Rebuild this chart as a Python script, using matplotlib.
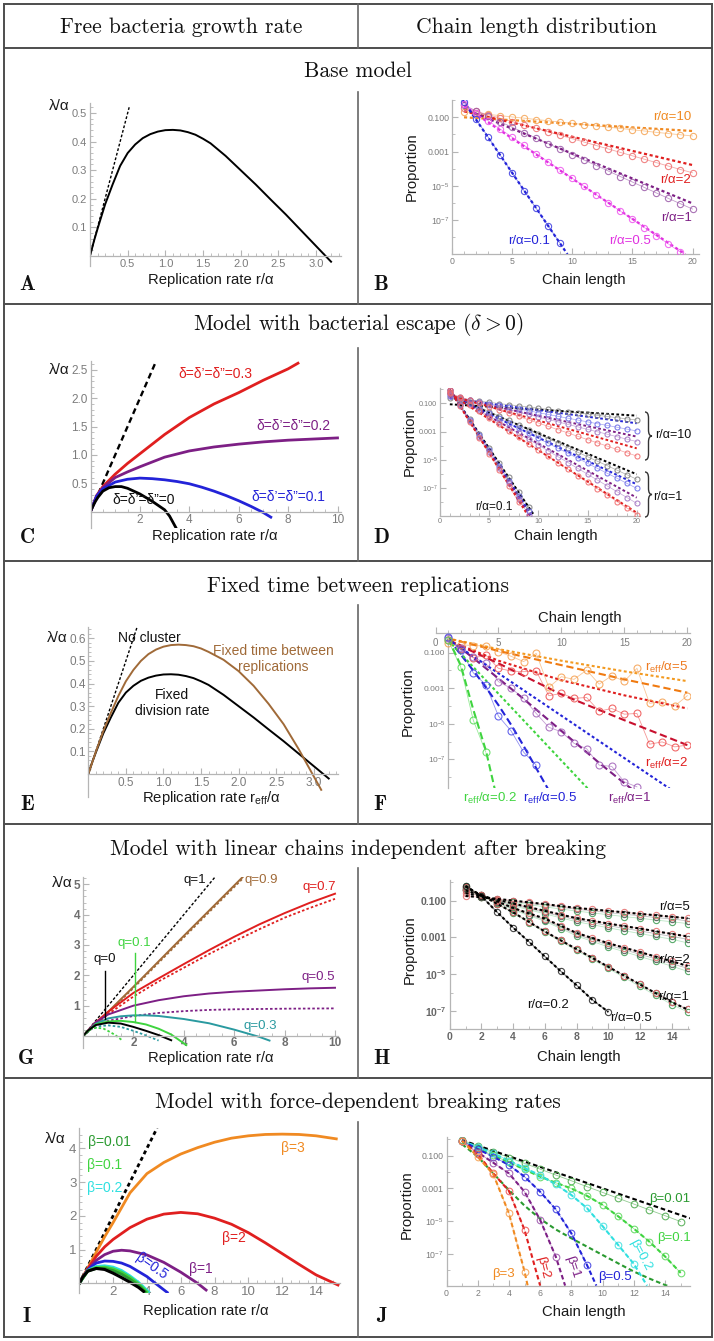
import numpy as np
import matplotlib
matplotlib.use('Agg')
import matplotlib.pyplot as plt
from matplotlib.lines import Line2D
from matplotlib.path import Path
from matplotlib.patches import PathPatch

plt.rcParams['font.family'] = ['Liberation Sans', 'DejaVu Sans']
plt.rcParams['mathtext.fontset'] = 'custom'
plt.rcParams['mathtext.rm'] = 'Liberation Sans'
plt.rcParams['mathtext.it'] = 'Liberation Sans:italic'
plt.rcParams['mathtext.bf'] = 'Liberation Sans:bold'

# ======================= DATA =======================
# --- A: base model growth rate
A_r = [0, 0.05, 0.1, 0.2, 0.3, 0.4, 0.5, 0.6, 0.7, 0.8, 0.9, 1.0, 1.1, 1.2, 1.3, 1.4, 1.5, 1.6, 1.8, 2.0, 2.2, 2.4, 2.6, 2.8, 3.0, 3.2]
A_lam = [0, 0.05, 0.095, 0.18, 0.25, 0.315, 0.36, 0.39, 0.412, 0.426, 0.435, 0.44, 0.441, 0.439, 0.433, 0.424, 0.41, 0.394, 0.35, 0.30, 0.25, 0.197, 0.145, 0.09, 0.035, -0.02]
A_tan_r = [0, 0.52]
A_tan_lam = [0, 0.52]
A_xticks = [0.5, 1.0, 1.5, 2.0, 2.5, 3.0]
A_xlabels = ['0.5', '1.0', '1.5', '2.0', '2.5', '3.0']
A_yticks = [0.1, 0.2, 0.3, 0.4, 0.5]
A_ylabels = ['0.1', '0.2', '0.3', '0.4', '0.5']

# --- B: chain length distribution, base model (log10 proportions)
B_r01_n = [1, 2, 3, 4, 5, 6, 7, 8, 9]
B_r01 = [-0.08, -1.1, -2.15, -3.2, -4.24, -5.29, -6.32, -7.35, -8.37]
B_r01_th_n = [0.9, 9.6]
B_r01_th = [0.0, -9.0]
B_r05_n = list(range(1, 20))
B_r05 = [-0.2, -0.72, -1.2, -1.68, -2.16, -2.64, -3.12, -3.6, -4.08, -4.56, -5.04, -5.52, -6.0, -6.48, -6.96, -7.44, -7.92, -8.4, -8.88]
B_r05_th_n = [1, 19.4]
B_r05_th = [-0.35, -9.0]
B_n20 = list(range(1, 21))
B_r1 = [-0.3, -0.62, -0.94, -1.26, -1.58, -1.9, -2.22, -2.54, -2.86, -3.18, -3.5, -3.82, -4.14, -4.46, -4.78, -5.1, -5.42, -5.74, -6.05, -6.36]
B_r1_th = [-0.5, -6.03]
B_r2 = [-0.45, -0.65, -0.85, -1.05, -1.25, -1.45, -1.65, -1.85, -2.05, -2.25, -2.45, -2.65, -2.85, -3.05, -3.25, -3.45, -3.65, -3.85, -4.05, -4.24]
B_r2_th = [-0.65, -3.79]
B_r10 = [-0.67, -0.75, -0.83, -0.9, -0.98, -1.05, -1.13, -1.2, -1.28, -1.35, -1.43, -1.5, -1.58, -1.65, -1.73, -1.8, -1.88, -1.95, -2.02, -2.09]
B_r10_th = [-1.0, -1.8]
TH_ENDS_20 = [1, 20]

LOG_YTICKS = [1e-1, 1e-3, 1e-5, 1e-7]
LOG_YLABELS = ['0.100', '0.001', '$10^{-5}$', '$10^{-7}$']

# --- C: bacterial escape
C_r0 = [0, 0.1, 0.2, 0.3, 0.5, 0.75, 1.0, 1.25, 1.5, 2.0, 2.5, 3.0, 3.2, 3.45]
C_l0 = [0, 0.095, 0.18, 0.25, 0.36, 0.42, 0.44, 0.44, 0.41, 0.31, 0.18, 0.03, -0.08, -0.28]
C_r1 = [0, 0.25, 0.5, 1.0, 1.5, 2.0, 2.5, 3.0, 3.5, 4.0, 4.5, 5.0, 5.5, 6.0, 6.5, 7.0, 7.3]
C_l1 = [0, 0.27, 0.4, 0.52, 0.57, 0.59, 0.58, 0.56, 0.53, 0.49, 0.43, 0.36, 0.28, 0.19, 0.09, -0.02, -0.1]
C_r2 = [0, 0.25, 0.5, 1, 1.5, 2, 3, 4, 5, 6, 7, 8, 9, 10]
C_l2 = [0, 0.28, 0.42, 0.6, 0.7, 0.79, 0.96, 1.07, 1.14, 1.19, 1.23, 1.26, 1.28, 1.30]
C_r3 = [0, 0.25, 0.5, 1, 1.5, 2, 3, 4, 5, 6, 7, 8, 8.4]
C_l3 = [0, 0.28, 0.44, 0.66, 0.85, 1.02, 1.36, 1.66, 1.9, 2.1, 2.32, 2.52, 2.62]
C_tan = [0, 2.65]

# --- D: escape chain distributions (log10)
D_r10_grey = [-0.6, -0.68, -0.77, -0.85, -0.93, -1.02, -1.1, -1.18, -1.26, -1.35, -1.43, -1.51, -1.6, -1.68, -1.76, -1.85, -1.93, -2.01, -2.1, -2.18]
D_r10_blue = [-0.5, -0.63, -0.76, -0.89, -1.02, -1.15, -1.27, -1.4, -1.53, -1.66, -1.79, -1.92, -2.05, -2.18, -2.31, -2.44, -2.56, -2.69, -2.82, -2.95]
D_r10_purple = [-0.4, -0.57, -0.75, -0.92, -1.1, -1.27, -1.44, -1.62, -1.79, -1.97, -2.14, -2.31, -2.49, -2.66, -2.84, -3.01, -3.18, -3.36, -3.53, -3.7]
D_r10_red = [-0.3, -0.53, -0.77, -1.0, -1.23, -1.46, -1.7, -1.93, -2.16, -2.39, -2.63, -2.86, -3.09, -3.33, -3.56, -3.79, -4.02, -4.26, -4.49, -4.72]
D_r10_th = {'black': [-1.07, -1.87], 'blue': [-0.65, -2.41], 'purple': [-0.55, -3.35], 'red': [-0.45, -4.18]}
D_r1_grey = [-0.3, -0.62, -0.94, -1.26, -1.58, -1.9, -2.21, -2.53, -2.85, -3.17, -3.49, -3.81, -4.13, -4.45, -4.77, -5.09, -5.4, -5.72, -6.04, -6.36]
D_r1_blue = [-0.3, -0.65, -1.01, -1.36, -1.71, -2.06, -2.42, -2.77, -3.12, -3.47, -3.83, -4.18, -4.53, -4.88, -5.24, -5.59, -5.94, -6.29, -6.65, -7.0]
D_r1_purple = [-0.25, -0.66, -1.07, -1.48, -1.89, -2.31, -2.72, -3.13, -3.54, -3.95, -4.36, -4.77, -5.18, -5.59, -6.0, -6.42, -6.83, -7.24, -7.65, -8.06]
D_r1_red = [-0.2, -0.66, -1.11, -1.57, -2.02, -2.48, -2.93, -3.39, -3.84, -4.3, -4.75, -5.21, -5.66, -6.12, -6.57, -7.03, -7.48, -7.94, -8.39, -8.85]
D_r1_th = {'black': [-0.5, -6.01], 'blue': [-0.45, -6.72], 'purple': [-0.4, -7.66], 'red': [-0.35, -8.72]}
D_n9 = [1, 2, 3, 4, 5, 6, 7, 8, 9]
D_r01_grey = [-0.05, -1.08, -2.11, -3.14, -4.17, -5.2, -6.23, -7.26, -8.29]
D_r01_blue = [-0.05, -1.12, -2.19, -3.26, -4.33, -5.4, -6.47, -7.54, -8.61]
D_r01_purple = [-0.05, -1.15, -2.25, -3.35, -4.45, -5.55, -6.65, -7.75, -8.85]
D_r01_red = [-0.05, -1.18, -2.31, -3.44, -4.57, -5.7, -6.83, -7.96]
D_r01_th_end = {'black': 9.6, 'blue': 9.35, 'purple': 9.15, 'red': 8.95}
D_r01_th = [-0.05, -8.93]

# --- E: fixed time between replications
E_r = [0, 0.1, 0.2, 0.3, 0.4, 0.5, 0.6, 0.7, 0.8, 0.9, 1.0, 1.1, 1.2, 1.3, 1.4, 1.5, 1.6, 1.8, 2.0, 2.2, 2.4, 2.6, 2.8, 3.0, 3.1]
E_brown = [0, 0.098, 0.19, 0.27, 0.345, 0.41, 0.46, 0.5, 0.53, 0.55, 0.563, 0.57, 0.572, 0.57, 0.565, 0.555, 0.54, 0.505, 0.455, 0.39, 0.31, 0.22, 0.11, -0.01, -0.07]
E_tan = [0, 0.67]
E_yticks = [0.1, 0.2, 0.3, 0.4, 0.5, 0.6]
E_ylabels = ['0.1', '0.2', '0.3', '0.4', '0.5', '0.6']

# --- F: fixed-time chain distributions (log10)
F_green_dash_n = [1, 2, 3, 4, 4.7]
F_green_dash = [-0.2, -1.7, -4.2, -6.5, -8.65]
F_green_dot_n = [1, 12.1]
F_green_dot = [-0.3, -8.65]
F_green_sim_n = [1, 2, 3, 4]
F_green_sim = [-0.3, -1.8, -4.8, -6.6]
F_blue_dash_n = [1, 2, 3, 4, 5, 6, 7, 8, 9]
F_blue_dash = [-0.2, -1.1, -2.0, -2.95, -3.95, -5.05, -6.25, -7.5, -8.75]
F_blue_dot_n = [1, 18.6]
F_blue_dot = [-0.25, -8.65]
F_blue_sim_n = [1, 2, 3, 4, 5, 6, 7, 8]
F_blue_sim = [-0.1, -0.85, -2.13, -2.82, -4.57, -5.4, -6.6, -7.33]
F_purple_dash_n = [1, 3, 5, 7, 9, 11, 13, 15, 16.2]
F_purple_dash = [-0.2, -1.3, -2.45, -3.6, -4.8, -6.0, -7.2, -8.35, -9.0]
F_purple_sim_n = list(range(1, 17))
F_purple_sim = [-0.2, -0.75, -1.25, -1.6, -2.63, -3.0, -3.57, -4.42, -5.2, -5.45, -6.1, -6.4, -7.33, -7.4, -8.27, -8.55]
F_n5 = [1, 5, 10, 15, 20]
F_red_dash = [-0.3, -1.6, -3.35, -4.8, -6.2]
F_red_dot = [-0.3, -1.45, -2.55, -3.4, -4.14]
F_red_sim = [-0.3, -0.81, -1.3, -1.13, -1.88, -2.03, -2.07, -2.03, -3.42, -3.29, -3.57, -3.52, -4.29, -4.14, -4.46, -4.42, -6.15, -6.02, -6.3, -6.2]
F_orange_dash = [-0.2, -0.9, -1.7, -2.5, -3.25]
F_orange_dot = [-0.2, -0.8, -1.45, -2.05, -2.6]
F_orange_sim = [-0.47, -0.55, -0.6, -0.62, -0.94, -1.2, -1.5, -1.04, -2.95, -2.35, -2.5, -1.98, -2.77, -2.3, -2.6, -1.88, -3.85, -3.76, -4.0, -3.42]

# --- G: linear chains
G_tan = [0, 5.25]
G_brown_r = [0, 0.5, 1, 2, 4, 6.35]
G_brown = [0, 0.38, 0.8, 1.62, 3.3, 5.25]
G_brown_dot = [0, 0.36, 0.77, 1.58, 3.25, 5.2]
G_r10 = [0, 0.5, 1, 2, 3, 4, 5, 6, 7, 8, 9, 10]
G_red = [0, 0.45, 0.8, 1.42, 1.9, 2.37, 2.83, 3.27, 3.68, 4.05, 4.39, 4.69]
G_red_dot = [0, 0.4, 0.72, 1.3, 1.8, 2.25, 2.7, 3.12, 3.52, 3.9, 4.22, 4.52]
G_purple = [0, 0.45, 0.71, 1.0, 1.18, 1.31, 1.4, 1.46, 1.5, 1.54, 1.57, 1.59]
G_purple_dot = [0, 0.35, 0.5, 0.66, 0.76, 0.82, 0.86, 0.88, 0.89, 0.9, 0.905, 0.91]
G_teal_r = [0, 0.5, 1, 1.5, 2, 2.5, 3, 4, 5, 6, 7, 7.4]
G_teal = [0, 0.4, 0.58, 0.65, 0.68, 0.68, 0.66, 0.56, 0.42, 0.21, -0.03, -0.15]
G_teal_dot_r = [0, 0.3, 0.7, 1.0, 1.5, 2.0, 2.5, 3.0]
G_teal_dot = [0, 0.22, 0.33, 0.35, 0.3, 0.17, 0.02, -0.15]
G_green_r = [0, 0.5, 1, 1.5, 2, 2.5, 3, 3.5, 4.1]
G_green = [0, 0.38, 0.48, 0.5, 0.46, 0.38, 0.24, 0.05, -0.3]
G_green_dot_r = [0, 0.2, 0.5, 0.8, 1.1, 1.3, 1.55]
G_green_dot = [0, 0.2, 0.27, 0.25, 0.12, 0.02, -0.14]
G_black_r = [0, 0.2, 0.5, 1.0, 1.5, 2.0, 2.5, 3.0, 3.5]
G_black = [0, 0.18, 0.36, 0.44, 0.41, 0.3, 0.17, 0.03, -0.14]

# --- H: linear chain distributions (log10)
H_n15 = list(range(1, 16))
H_n10 = list(range(1, 11))
H_r5 = [-0.75, -0.82, -0.91, -1.0, -1.1, -1.19, -1.3, -1.4, -1.48, -1.56, -1.64, -1.72, -1.8, -1.88, -1.96]
H_r5_grey = [-0.45, -0.8, -0.93, -1.04, -1.15, -1.25, -1.36, -1.47, -1.56, -1.65, -1.74, -1.83, -1.92, -2.0, -2.1]
H_r5_green = [-0.35, -0.82, -0.97, -1.1, -1.22, -1.34, -1.46, -1.57, -1.67, -1.77, -1.87, -1.96, -2.06, -2.15, -2.25]
H_r2 = [-0.6, -0.75, -0.96, -1.16, -1.36, -1.56, -1.76, -1.96, -2.1, -2.25, -2.39, -2.52, -2.67, -2.81, -2.95]
H_r2_grey = [-0.45, -0.8, -1.0, -1.22, -1.43, -1.64, -1.85, -2.05, -2.2, -2.36, -2.51, -2.65, -2.8, -2.95, -3.1]
H_r2_green = [-0.4, -0.82, -1.05, -1.28, -1.5, -1.72, -1.94, -2.15, -2.31, -2.48, -2.64, -2.79, -2.95, -3.1, -3.3]
H_r1 = [-0.45, -0.7, -1.05, -1.4, -1.7, -1.98, -2.37, -2.76, -3.04, -3.32, -3.56, -3.8, -4.05, -4.3, -4.55]
H_r1_grey = [-0.35, -0.72, -1.09, -1.45, -1.76, -2.05, -2.45, -2.84, -3.13, -3.42, -3.67, -3.92, -4.17, -4.43, -4.68]
H_r1_green = [-0.3, -0.74, -1.12, -1.5, -1.82, -2.12, -2.52, -2.92, -3.22, -3.52, -3.78, -4.04, -4.3, -4.56, -4.85]
H_r05 = [-0.25, -0.71, -1.18, -1.64, -2.16, -2.68, -3.16, -3.64, -4.12, -4.6, -5.08, -5.56, -6.04, -6.52, -6.92]
H_r05_green = [-0.2, -0.72, -1.2, -1.67, -2.2, -2.73, -3.22, -3.71, -4.2, -4.69, -5.18, -5.67, -6.16, -6.65, -7.05]
H_r02 = [-0.2, -0.76, -1.64, -2.47, -3.24, -4.04, -4.84, -5.6, -6.4, -7.05]

# --- I: force-dependent breaking
I_tan = [0, 4.6]
I_orange_r = [0, 0.5, 1, 1.5, 2, 3, 4, 5, 6, 7, 8, 9, 10, 11, 12, 13, 14, 15.2]
I_orange = [0, 0.45, 0.92, 1.38, 1.8, 2.68, 3.25, 3.58, 3.83, 4.02, 4.18, 4.3, 4.37, 4.41, 4.42, 4.41, 4.37, 4.28]
I_red_r = [0, 0.5, 1, 1.5, 2, 3, 4, 5, 6, 7, 8, 9, 10, 11, 12, 13, 14, 15.3]
I_red = [0, 0.43, 0.8, 1.08, 1.3, 1.65, 1.9, 2.05, 2.1, 2.06, 1.93, 1.75, 1.5, 1.2, 0.88, 0.56, 0.25, -0.05]
I_purple_r = [0, 0.5, 1, 1.5, 2, 2.5, 3, 4, 5, 6, 7, 7.5]
I_purple = [0, 0.4, 0.68, 0.85, 0.95, 0.98, 0.96, 0.84, 0.62, 0.33, 0.0, -0.2]
I_blue_r = [0, 0.5, 1, 1.5, 2, 2.5, 3, 4, 4.5, 5.2]
I_blue = [0, 0.4, 0.6, 0.66, 0.65, 0.6, 0.5, 0.2, 0.0, -0.27]
I_cyan_r = [0, 0.5, 1, 1.5, 2, 2.5, 3, 3.5, 4.1]
I_cyan = [0, 0.38, 0.5, 0.52, 0.48, 0.38, 0.22, 0.03, -0.25]
I_green_r = [0, 0.5, 1, 1.5, 2, 2.5, 3, 3.5, 4.0]
I_green = [0, 0.37, 0.47, 0.48, 0.43, 0.33, 0.18, -0.01, -0.25]
I_dgreen_r = [0, 0.5, 1, 1.5, 2, 2.5, 3, 3.5, 3.9]
I_dgreen = [0, 0.36, 0.44, 0.44, 0.38, 0.27, 0.12, -0.06, -0.25]
I_black_r = [0, 0.2, 0.5, 1.0, 1.5, 2.0, 2.5, 3.0, 3.5, 3.8]
I_black = [0, 0.18, 0.36, 0.44, 0.41, 0.3, 0.17, 0.03, -0.12, -0.24]

# --- J: force-dependent chain distributions (log10)
J_black_n = [1, 15.6]
J_black = [-0.05, -4.82]
J_n15 = list(range(1, 16))
J_b001 = [-0.05, -0.4, -0.76, -1.11, -1.47, -1.82, -2.18, -2.53, -2.89, -3.24, -3.6, -3.95, -4.31, -4.66, -5.02]
J_b01 = [-0.1, -0.55, -0.98, -1.4, -1.84, -2.28, -2.65, -3.0, -3.45, -4.0, -4.7, -5.45, -6.25, -7.15, -8.15]
J_dg_n = [1, 2, 3, 4, 5, 6, 7, 8, 9, 10, 11, 12, 13, 14, 14.2]
J_dg = [-0.3, -1.06, -2.08, -3.1, -4.05, -4.85, -5.5, -6.04, -6.55, -7.06, -7.57, -8.07, -8.5, -8.89, -8.95]
J_cyan_n = [1, 2, 3, 4, 5, 6, 7, 8, 9, 10, 11, 12, 12.85]
J_cyan = [-0.1, -0.45, -0.86, -1.3, -1.75, -2.2, -2.75, -3.4, -4.2, -5.3, -6.45, -7.6, -8.93]
J_blue_n = [1, 2, 3, 4, 5, 6, 7, 8, 9, 9.6]
J_blue = [-0.1, -0.6, -1.06, -1.57, -2.28, -3.2, -4.27, -5.74, -7.67, -8.93]
J_purple_n = [1, 2, 3, 4, 5, 6, 7, 7.6]
J_purple = [-0.1, -0.8, -1.43, -2.08, -3.2, -4.92, -7.16, -8.93]
J_red_n = [1, 2, 3, 4, 5, 6.0]
J_red = [-0.1, -0.9, -2.08, -3.15, -5.53, -8.93]
J_orange_n = [1, 2, 3, 4, 5, 5.2]
J_orange = [-0.1, -1.06, -2.14, -4.52, -8.07, -8.93]

# ======================= FIGURE =======================
W, H = 714, 1341
fig = plt.figure(figsize=(W / 100, H / 100), dpi=100)

AX_C = '#b5b5b5'
TL_C = '#7c7c7c'
BLUE = '#2323d8'
MAG = '#e030e0'
PURP = '#7d1f85'
RED = '#e01f1f'
ORNG = '#f08a22'
BROWN = '#a06a38'
GRN = '#3fd43f'
DGRN = '#2a9a30'
CYAN = '#2fe0e0'
TEAL = '#2a9aa0'
DOT = (0, (1.4, 1.2))
DASH = (0, (3.5, 1.8))


def P(a):
    return 10.0 ** np.asarray(a, dtype=float)


def make_ax(xcal, ycal, xlim, ylim, logy=False):
    px0, v0, px1, v1 = xcal
    sx = (px1 - px0) / (v1 - v0)
    left = px0 + (xlim[0] - v0) * sx
    right = px0 + (xlim[1] - v0) * sx
    py0, w0, py1, w1 = ycal
    sy = (py1 - py0) / (w1 - w0)
    top = py0 + (ylim[1] - w0) * sy
    bottom = py0 + (ylim[0] - w0) * sy
    ax = fig.add_axes([left / W, 1 - bottom / H, (right - left) / W, (bottom - top) / H])
    ax.set_xlim(*xlim)
    if logy:
        ax.set_yscale('log')
        ax.set_ylim(10.0 ** ylim[0], 10.0 ** ylim[1])
    else:
        ax.set_ylim(*ylim)
    ax.patch.set_alpha(0)
    for s in ['top', 'right']:
        ax.spines[s].set_visible(False)
    for s in ['left', 'bottom']:
        ax.spines[s].set_color(AX_C)
        ax.spines[s].set_linewidth(0.9)
    ax.tick_params(which='both', direction='in', color=AX_C, labelcolor=TL_C, pad=2)
    ax.tick_params(which='major', length=4, width=0.8)
    ax.tick_params(which='minor', length=2, width=0.6)
    return ax


def lin_ticks(ax, xt, xl, yt, yl, xminor, yminor, fs, bold=False):
    ax.spines['left'].set_position(('data', 0))
    ax.spines['bottom'].set_position(('data', 0))
    ax.set_xticks(xt)
    ax.set_xticklabels(xl)
    ax.set_yticks(yt)
    ax.set_yticklabels(yl)
    ax.set_xticks(xminor, minor=True)
    ax.set_yticks(yminor, minor=True)
    ax.tick_params(labelsize=fs)
    if bold:
        for t in ax.get_xticklabels() + ax.get_yticklabels():
            t.set_fontweight('bold')


def log_ticks(ax, xt, fs, minor_x, bold=False, xlabels=None):
    ax.set_yticks(LOG_YTICKS)
    if bold:
        ax.set_yticklabels(['0.100', '0.001', r'$\mathbf{10^{-5}}$', r'$\mathbf{10^{-7}}$'])
    else:
        ax.set_yticklabels(LOG_YLABELS)
    ax.set_yticks([1e0, 1e-2, 1e-4, 1e-6, 1e-8], minor=True)
    ax.set_yticklabels([], minor=True)
    ax.set_xticks(xt)
    ax.set_xticklabels(xlabels if xlabels is not None else [str(v) for v in xt])
    ax.set_xticks(minor_x, minor=True)
    ax.tick_params(labelsize=fs)
    if bold:
        for t in ax.get_xticklabels() + ax.get_yticklabels():
            t.set_fontweight('bold')
        ax.tick_params(labelcolor='#666666')


def sim(ax, n, logv, color, lc=None, ms=4.5, lw=0.6, alpha=0.85):
    ax.plot(n, P(logv), color=lc or color, lw=lw, alpha=0.6, zorder=2)
    ax.plot(n, P(logv), ls='none', marker='o', ms=ms, mfc='none', mec=color, mew=0.8,
            alpha=alpha, zorder=3)


def ftext(x, y, s, **kw):
    kw.setdefault('ha', 'center')
    kw.setdefault('va', 'center')
    return fig.text(x / W, 1 - y / H, s, **kw)


def fline(xs, ys, **kw):
    fig.add_artist(Line2D([x / W for x in xs], [1 - y / H for y in ys],
                          transform=fig.transFigure, **kw))


def brace(x, y0, y1, w=7, r=6):
    ym = (y0 + y1) / 2.0
    verts = [(x, y0), (x + w / 2, y0), (x + w / 2, y0 + r), (x + w / 2, ym - r),
             (x + w / 2, ym), (x + w, ym), (x + w / 2, ym), (x + w / 2, ym + r),
             (x + w / 2, y1 - r), (x + w / 2, y1), (x, y1)]
    codes = [Path.MOVETO, Path.CURVE3, Path.CURVE3, Path.LINETO, Path.CURVE3, Path.CURVE3,
             Path.CURVE3, Path.CURVE3, Path.LINETO, Path.CURVE3, Path.CURVE3]
    verts = [(vx / W, 1 - vy / H) for vx, vy in verts]
    fig.add_artist(PathPatch(Path(verts, codes), transform=fig.transFigure, fill=False,
                             lw=1.0, ec='#333333'))


# ---------------- table frame ----------------
FRAME = dict(color='#4d4d4d', lw=1.4)
for yy in [4, 48, 304, 561, 824, 1078, 1337]:
    fline([4, 712], [yy, yy], **FRAME)
fline([4, 4], [4, 1337], **FRAME)
fline([712, 712], [4, 1337], **FRAME)
for y0, y1 in [(4, 48), (92, 304), (348, 561), (605, 824), (868, 1078), (1122, 1337)]:
    fline([358, 358], [y0, y1], color='#666666', lw=1.2)

SERIF = dict(family='cmr10', fontsize=15.5, color='#111111')
ftext(181, 27, 'Free bacteria growth rate', **SERIF)
ftext(536, 27, 'Chain length distribution', **SERIF)
ftext(358, 71, 'Base model', **SERIF)
ftext(358, 324, r'Model with bacterial escape ($\delta > 0$)', math_fontfamily='cm', **SERIF)
ftext(358, 586, 'Fixed time between replications', **SERIF)
ftext(358, 849, 'Model with linear chains independent after breaking', **SERIF)
ftext(358, 1102, 'Model with force-dependent breaking rates', **SERIF)

LET = dict(family='cmb10', fontsize=15, color='#111111')
for s, x, y in [('A', 27, 285), ('B', 381, 285), ('C', 27, 537), ('D', 381, 537),
                ('E', 27, 805), ('F', 380, 805), ('G', 26, 1058), ('H', 381, 1058),
                ('I', 27, 1316), ('J', 381, 1316)]:
    ftext(x, y, s, **LET)

AXL = dict(fontsize=10.7, color='#1a1a1a')
LAM = dict(fontsize=11, color='#1a1a1a')

# ---------------- A ----------------
ax = make_ax((90, 0, 316, 3.0), (256, 0, 113, 0.5), (0, 3.33), (-0.035, 0.535))
lin_ticks(ax, A_xticks, A_xlabels, A_yticks, A_ylabels,
          np.arange(0.1, 3.31, 0.1), np.arange(0.02, 0.53, 0.02), 8)
ax.plot(A_tan_r, A_tan_lam, color='k', ls=(0, (2, 1.4)), lw=1.0)
ax.plot(A_r, A_lam, color='k', lw=1.4)
ftext(59, 106, 'λ/α', **LAM)
ftext(211, 280, 'Replication rate r/α', **AXL)

# ---------------- B ----------------
ax = make_ax((452, 0, 692.5, 20), (117.3, -1, 220, -7), (0, 20.5), (-9, 0.02), logy=True)
log_ticks(ax, [0, 5, 10, 15, 20], 6.3, np.arange(1, 21, 1))
sim(ax, B_n20, B_r10, '#f5a555')
sim(ax, B_n20, B_r2, '#ee7070')
sim(ax, B_n20, B_r1, '#9a5aa8')
sim(ax, B_r05_n, B_r05, '#ee55ee')
sim(ax, B_r01_n, B_r01, '#3a3ae0')
ax.plot(TH_ENDS_20, P(B_r10_th), color=ORNG, ls=DOT, lw=1.6)
ax.plot(TH_ENDS_20, P(B_r2_th), color=RED, ls=DOT, lw=1.6)
ax.plot(TH_ENDS_20, P(B_r1_th), color=PURP, ls=DOT, lw=1.6)
ax.plot(B_r05_th_n, P(B_r05_th), color=MAG, ls=DOT, lw=1.6)
ax.plot(B_r01_th_n, P(B_r01_th), color=BLUE, ls=DOT, lw=1.6)
TL = dict(fontsize=9.5, ha='center', va='center')
ax.text(18.3, P(-1.0), 'r/α=10', color=ORNG, **TL)
ax.text(18.6, P(-4.66), 'r/α=2', color=RED, **TL)
ax.text(18.7, P(-6.9), 'r/α=1', color=PURP, **TL)
ax.text(6.4, P(-8.2), 'r/α=0.1', color=BLUE, **TL)
ax.text(14.8, P(-8.2), 'r/α=0.5', color=MAG, **TL)
ftext(412, 167, 'Proportion', rotation=90, **AXL)
ftext(584, 280, 'Chain length', **AXL)

# ---------------- C ----------------
ax = make_ax((90.5, 0, 337.5, 10), (511.5, 0, 370, 2.5), (0, 10.15), (-0.3, 2.66))
lin_ticks(ax, [2, 4, 6, 8, 10], ['2', '4', '6', '8', '10'],
          [0.5, 1.0, 1.5, 2.0, 2.5], ['0.5', '1.0', '1.5', '2.0', '2.5'],
          np.arange(0.5, 10.01, 0.5), np.arange(0.1, 2.61, 0.1), 8.5)
ax.plot(C_tan, C_tan, color='k', ls=(0, (2.5, 1.6)), lw=1.7)
ax.plot(C_r3, C_l3, color=RED, lw=2.0)
ax.plot(C_r2, C_l2, color=PURP, lw=2.0)
ax.plot(C_r1, C_l1, color=BLUE, lw=2.0)
ax.plot(C_r0, C_l0, color='k', lw=2.0)
ftext(59, 370, 'λ/α', **LAM)
CL = dict(fontsize=10)
ftext(215, 374, 'δ=δ’=δ”=0.3', color=RED, **CL)
ftext(293, 426, 'δ=δ’=δ”=0.2', color=PURP, **CL)
ftext(288, 497, 'δ=δ’=δ”=0.1', color=BLUE, **CL)
ftext(144, 500, 'δ=δ’=δ”=0', color='#111111', **CL)
ftext(215, 536, 'Replication rate r/α', **AXL)

# ---------------- D ----------------
ax = make_ax((440, 0, 636.7, 20), (403.3, -1, 488.3, -7), (0, 20.3), (-8.93, 0.06), logy=True)
log_ticks(ax, [0, 5, 10, 15, 20], 5.2, np.arange(1, 21, 1))
DC = {'black': ('#7a7a7a', 'k'), 'blue': ('#6a6ae8', BLUE), 'purple': ('#a070c0', PURP),
      'red': ('#f06a6a', RED)}
for key, arr10, arr1, arr01 in [('black', D_r10_grey, D_r1_grey, D_r01_grey),
                                 ('blue', D_r10_blue, D_r1_blue, D_r01_blue),
                                 ('purple', D_r10_purple, D_r1_purple, D_r01_purple),
                                 ('red', D_r10_red, D_r1_red, D_r01_red)]:
    cc, lc = DC[key]
    sim(ax, B_n20, arr10, cc, ms=3.6, lw=0.5)
    sim(ax, B_n20, arr1, cc, ms=3.6, lw=0.5)
    sim(ax, D_n9[:len(arr01)], arr01, cc, ms=3.6, lw=0.5)
for key in ['black', 'blue', 'purple', 'red']:
    lc = DC[key][1]
    ax.plot(TH_ENDS_20, P(D_r10_th[key]), color=lc, ls=DOT, lw=1.4)
    ax.plot(TH_ENDS_20, P(D_r1_th[key]), color=lc, ls=DOT, lw=1.4)
    ax.plot([1, D_r01_th_end[key]], P(D_r01_th), color=lc, ls=DOT, lw=1.4)
ax.text(5.45, P(-8.33), 'r/α=0.1', fontsize=8.5, ha='center', va='center', color='#111111')
brace(645, 412, 460)
brace(645, 472, 517)
ftext(673, 435, 'r/α=10', fontsize=9, color='#111111')
ftext(668, 497, 'r/α=1', fontsize=9, color='#111111')
ftext(410, 442, 'Proportion', rotation=90, **AXL)
ftext(556, 536, 'Chain length', **AXL)

# ---------------- E ----------------
ax = make_ax((88.3, 0, 313.7, 3.0), (774, 0, 638.3, 0.6), (0, 3.33), (-0.1, 0.65))
lin_ticks(ax, A_xticks, A_xlabels, E_yticks, E_ylabels,
          np.arange(0.1, 3.31, 0.1), np.arange(0.02, 0.65, 0.02), 8.5)
ax.plot(E_tan, E_tan, color='k', ls=(0, (2, 1.4)), lw=1.0)
ax.plot(A_r, A_lam, color='k', lw=1.4)
ax.plot(E_r, E_brown, color=BROWN, lw=1.4)
ftext(57, 638, 'λ/α', **LAM)
ftext(149, 638, 'No cluster', fontsize=10, color='#111111')
ftext(273, 659, 'Fixed time between\nreplications', fontsize=10, color=BROWN, linespacing=1.25)
ftext(172, 703, 'Fixed\ndivision rate', fontsize=10, color='#111111', linespacing=1.25)
ftext(211, 798, r'Replication rate r$_{\rm eff}$/α', **AXL)

# ---------------- F ----------------
ax = make_ax((435.5, 0, 687.3, 20), (652.7, -1, 759.3, -7), (0, 20.2), (-8.62, 0.09), logy=True)
log_ticks(ax, [0, 5, 10, 15, 20], 6.0, np.arange(1, 21, 1))
ax.spines['left'].set_position(('data', 1))
ax.spines['bottom'].set_position(('axes', 1.0))
ax.tick_params(axis='x', labelsize=7, pad=3)
sim(ax, B_n20, F_orange_sim, '#f5a050', ms=5)
sim(ax, B_n20, F_red_sim, '#ee5050', ms=5)
sim(ax, F_purple_sim_n, F_purple_sim, '#a060b8', ms=5)
sim(ax, F_blue_sim_n, F_blue_sim, '#4a4ae8', ms=5)
sim(ax, F_green_sim_n, F_green_sim, '#55dd55', ms=5)
ax.plot(F_n5, P(F_orange_dot), color='#f39a20', ls=DOT, lw=1.5)
ax.plot(F_n5, P(F_orange_dash), color='#f07a10', ls=DASH, lw=1.5)
ax.plot(F_n5, P(F_red_dot), color=RED, ls=DOT, lw=1.5)
ax.plot(F_n5, P(F_red_dash), color='#c8102e', ls=DASH, lw=1.5)
ax.plot(F_purple_dash_n, P(F_purple_dash), color=PURP, ls=DASH, lw=1.5)
ax.plot(F_blue_dot_n, P(F_blue_dot), color=BLUE, ls=DOT, lw=1.5)
ax.plot(F_blue_dash_n, P(F_blue_dash), color=BLUE, ls=DASH, lw=1.5)
ax.plot(F_green_dot_n, P(F_green_dot), color=GRN, ls=DOT, lw=1.5)
ax.plot(F_green_dash_n, P(F_green_dash), color=GRN, ls=DASH, lw=1.5)
ftext(580, 618, 'Chain length', **AXL)
ftext(408, 702, 'Proportion', rotation=90, **AXL)
FL = dict(fontsize=9.5)
ftext(667, 667, r'r$_{\rm eff}$/α=5', color='#ee7a20', **FL)
ftext(667, 763, r'r$_{\rm eff}$/α=2', color=RED, **FL)
ftext(490, 798, r'r$_{\rm eff}$/α=0.2', color=GRN, **FL)
ftext(550, 798, r'r$_{\rm eff}$/α=0.5', color=BLUE, **FL)
ftext(630, 798, r'r$_{\rm eff}$/α=1', color=PURP, **FL)

# ---------------- G ----------------
ax = make_ax((83, 0, 335, 10), (1036, 0, 884.3, 5), (0, 10.1), (-0.4, 5.25))
lin_ticks(ax, [2, 4, 6, 8, 10], ['2', '4', '6', '8', '10'],
          [1, 2, 3, 4, 5], ['1', '2', '3', '4', '5'],
          np.arange(0.5, 10.01, 0.5), np.arange(0.2, 5.21, 0.2), 8.5, bold=True)
ax.tick_params(labelcolor='#6e6e6e')
ax.tick_params(axis='x', pad=1)
ax.plot(G_tan, G_tan, color='k', ls=(0, (2, 1.4)), lw=1.0)
ax.plot(G_brown_r, G_brown_dot, color=BROWN, ls=DOT, lw=1.3)
ax.plot(G_brown_r, G_brown, color=BROWN, lw=1.4)
ax.plot(G_r10, G_red_dot, color=RED, ls=DOT, lw=1.3)
ax.plot(G_r10, G_red, color=RED, lw=1.4)
ax.plot(G_r10, G_purple_dot, color=PURP, ls=DOT, lw=1.3)
ax.plot(G_r10, G_purple, color=PURP, lw=1.4)
ax.plot(G_teal_dot_r, G_teal_dot, color=TEAL, ls=DOT, lw=1.3)
ax.plot(G_teal_r, G_teal, color=TEAL, lw=1.4)
ax.plot(G_green_dot_r, G_green_dot, color=GRN, ls=DOT, lw=1.3)
ax.plot(G_green_r, G_green, color=GRN, lw=1.4)
ax.plot(G_black_r, G_black, color='k', lw=1.4)
ax.plot([0.86, 0.86], [0.55, 2.15], color='k', lw=1.0)
ax.plot([2.05, 2.05], [0.45, 2.72], color=GRN, lw=1.0)
ftext(62, 883, 'λ/α', **LAM)
GL = dict(fontsize=9.5)
ftext(195, 880, 'q=1', color='#111111', **GL)
ftext(261, 880, 'q=0.9', color=BROWN, **GL)
ftext(319, 887, 'q=0.7', color=RED, **GL)
ftext(318, 977, 'q=0.5', color=PURP, **GL)
ftext(260, 1026, 'q=0.3', color=TEAL, **GL)
ftext(134, 943, 'q=0.1', color=GRN, **GL)
ftext(105, 959, 'q=0', color='#111111', **GL)
ftext(211, 1058, 'Replication rate r/α', **AXL)

# ---------------- H ----------------
ax = make_ax((449.7, 0, 671.7, 14), (903.3, -1, 1028.3, -7), (0, 15.1), (-7.05, 0.12), logy=True)
log_ticks(ax, [0, 2, 4, 6, 8, 10, 12, 14], 7.5, np.arange(1, 15.1, 1), bold=True)
HR, HG, HK = '#e46a6a', '#3a9a50', '#505050'
for th, gr, gn in [(H_r5, H_r5_grey, H_r5_green), (H_r2, H_r2_grey, H_r2_green),
                   (H_r1, H_r1_grey, H_r1_green)]:
    sim(ax, H_n15, gn, HG, lc='#8fd79f', ms=4.5)
    sim(ax, H_n15, gr, HK, lc='#909090', ms=4.5)
    sim(ax, H_n15, th, HR, lc='#f0a0a0', ms=4.5)
    ax.plot(H_n15, P(th), color='k', ls=DOT, lw=1.5, zorder=4)
sim(ax, H_n15, H_r05_green, HG, lc='#8fd79f', ms=4.5)
sim(ax, H_n15, H_r05, HK, lc='#909090', ms=4.5)
sim(ax, H_n15, H_r05, HR, lc='#f0a0a0', ms=4.5)
ax.plot(H_n15, P(H_r05), color='k', ls=DOT, lw=1.5, zorder=4)
sim(ax, H_n10, H_r02, '#222222', lc='#222222', ms=4.5, lw=0.8)
ax.plot(H_n10, P(H_r02), color='k', ls=DOT, lw=1.5, zorder=4)
HL = dict(fontsize=9.5, color='#111111')
ftext(674, 907, 'r/α=5', **HL)
ftext(674, 960, 'r/α=2', **HL)
ftext(674, 997, 'r/α=1', **HL)
ftext(631, 1018, 'r/α=0.5', **HL)
ftext(548, 1005, 'r/α=0.2', **HL)
ftext(410, 950, 'Proportion', rotation=90, **AXL)
ftext(579, 1057, 'Chain length', **AXL)

# ---------------- I ----------------
ax = make_ax((79.3, 0, 316, 14), (1283.3, 0, 1148.3, 4), (0, 15.4), (-0.3, 4.6))
lin_ticks(ax, [2, 4, 6, 8, 10, 12, 14], ['2', '4', '6', '8', '10', '12', '14'],
          [1, 2, 3, 4], ['1', '2', '3', '4'],
          np.arange(0.5, 15.01, 0.5), np.arange(0.2, 4.41, 0.2), 9.5)
ax.plot([0, 4.6], I_tan, color='k', ls=(0, (1.4, 1.2)), lw=2.0)
ax.plot(I_orange_r, I_orange, color=ORNG, lw=2.0)
ax.plot(I_red_r, I_red, color=RED, lw=2.0)
ax.plot(I_purple_r, I_purple, color=PURP, lw=2.0)
ax.plot(I_blue_r, I_blue, color=BLUE, lw=2.0)
ax.plot(I_cyan_r, I_cyan, color=CYAN, lw=2.0)
ax.plot(I_green_r, I_green, color=GRN, lw=2.0)
ax.plot(I_dgreen_r, I_dgreen, color=DGRN, lw=2.0)
ax.plot(I_black_r, I_black, color='k', lw=2.2)
ftext(55, 1139, 'λ/α', **LAM)
IL = dict(fontsize=10)
ftext(109, 1142, 'β=0.01', color=DGRN, **IL)
ftext(105, 1165, 'β=0.1', color=GRN, **IL)
ftext(105, 1188, 'β=0.2', color=CYAN, **IL)
ftext(293, 1148, 'β=3', color=ORNG, **IL)
ftext(234, 1238, 'β=2', color=RED, **IL)
ftext(201, 1269, 'β=1', color=PURP, **IL)
ftext(151, 1266, 'β=0.5', color=BLUE, rotation=-35, **IL)
ftext(206, 1311, 'Replication rate r/α', **AXL)

# ---------------- J ----------------
ax = make_ax((446.5, 0, 665, 14), (1155.7, -1, 1254, -7), (0, 15.6), (-8.95, 0.16), logy=True)
log_ticks(ax, [0, 2, 4, 6, 8, 10, 12, 14], 6.3, np.arange(1, 15.1, 1))
sim(ax, J_n15, J_b001, '#4caa4c', ms=4.8)
sim(ax, J_n15, J_b01, '#5ad85a', ms=4.8)
sim(ax, J_cyan_n[:12], J_cyan[:12], '#40e0e0', ms=4.8)
sim(ax, J_blue_n[:9], J_blue[:9], '#3a3ae0', ms=4.8)
sim(ax, J_purple_n[:7], J_purple[:7], '#9a50aa', ms=4.8)
sim(ax, J_red_n[:5], J_red[:5], '#ee5050', ms=4.8)
sim(ax, J_orange_n[:5], J_orange[:5], '#f5a050', ms=4.8)
JD = (0, (2.2, 1.4))
ax.plot(J_black_n, P(J_black), color='k', ls=JD, lw=1.5)
ax.plot(J_dg_n, P(J_dg), color=DGRN, ls=JD, lw=1.5)
ax.plot(J_n15, P(J_b01), color=GRN, ls=JD, lw=1.5)
ax.plot(J_cyan_n, P(J_cyan), color=CYAN, ls=JD, lw=1.5)
ax.plot(J_blue_n, P(J_blue), color=BLUE, ls=JD, lw=1.5)
ax.plot(J_purple_n, P(J_purple), color=PURP, ls=JD, lw=1.5)
ax.plot(J_red_n, P(J_red), color=RED, ls=JD, lw=1.5)
ax.plot(J_orange_n, P(J_orange), color=ORNG, ls=JD, lw=1.5)
JL = dict(fontsize=9.5)
ftext(670, 1199, 'β=0.01', color=DGRN, **JL)
ftext(674, 1238, 'β=0.1', color=GRN, **JL)
ftext(640, 1255, 'β=0.2', color=CYAN, rotation=-62, **JL)
ftext(615, 1277, 'β=0.5', color=BLUE, **JL)
ftext(572, 1267, 'β=1', color=PURP, rotation=-72, **JL)
ftext(543, 1268, 'β=2', color=RED, rotation=-76, **JL)
ftext(503, 1274, 'β=3', color=ORNG, **JL)
ftext(407, 1205, 'Proportion', rotation=90, **AXL)
ftext(584, 1312, 'Chain length', **AXL)

fig.savefig('out.png', dpi=100)
